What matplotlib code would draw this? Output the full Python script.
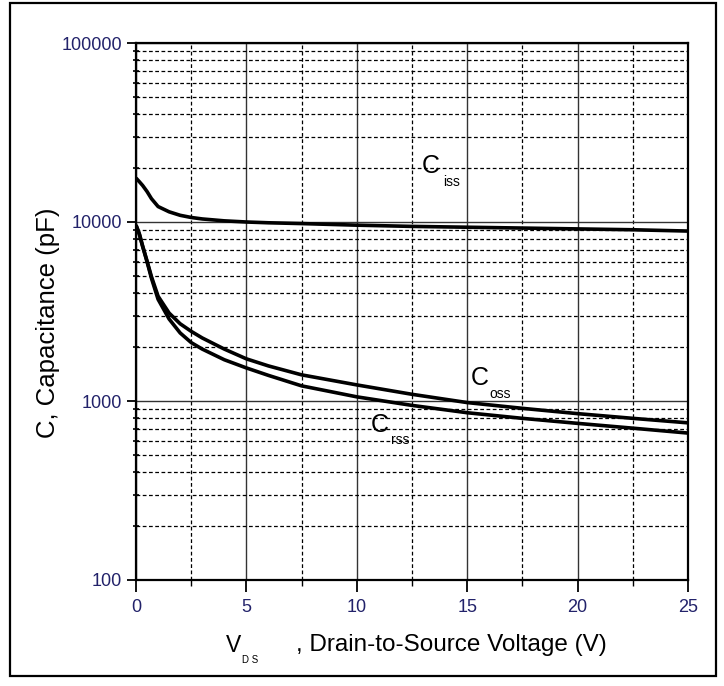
import matplotlib
matplotlib.use("Agg")
import matplotlib.pyplot as plt
from matplotlib.patches import Rectangle
from matplotlib.ticker import FixedLocator, NullFormatter

plt.rcParams["font.family"] = ["Liberation Sans", "DejaVu Sans"]

# drain-to-source voltage (V)
vds = [0, 0.15, 0.3, 0.5, 0.7, 1.0, 1.5, 2.0, 2.5, 3, 4, 5, 6, 7.5,
       10, 12.5, 15, 17.5, 20, 22.5, 25]
# capacitances (pF)
ciss = [17600, 16800, 16000, 14800, 13500, 12200, 11400, 10900, 10600, 10400,
        10150, 10000, 9900, 9800, 9600, 9450, 9350, 9250, 9150, 9050, 8900]
coss = [9600, 8600, 7350, 6050, 4950, 3850, 3100, 2700, 2450, 2250,
        1950, 1720, 1570, 1400, 1230, 1090, 980, 910, 850, 800, 755]
crss = [9600, 8550, 7300, 6000, 4850, 3700, 2870, 2400, 2120, 1950,
        1700, 1530, 1390, 1215, 1055, 945, 860, 800, 750, 705, 662]

x_ticks = [0, 5, 10, 15, 20, 25]
x_minor = [2.5, 7.5, 12.5, 17.5, 22.5]
y_ticks = [100, 1000, 10000, 100000]

W, H = 724, 686
fig = plt.figure(figsize=(W / 100, H / 100), dpi=100)
fig.patches.append(Rectangle((10 / W, 1 - 676 / H), 706 / W, 673 / H,
                             transform=fig.transFigure, fill=False,
                             edgecolor="black", linewidth=1.6))

ax = fig.add_axes([136 / W, 1 - 580 / H, 552 / W, 537 / H])
ax.set_yscale("log")
ax.set_xlim(0, 25)
ax.set_ylim(100, 100000)

tick_color = "#22226a"
ax.xaxis.set_major_locator(FixedLocator(x_ticks))
ax.xaxis.set_minor_locator(FixedLocator(x_minor))
ax.set_xticklabels([str(t) for t in x_ticks])
ax.yaxis.set_major_locator(FixedLocator(y_ticks))
ax.set_yticklabels([str(t) for t in y_ticks])
ax.yaxis.set_minor_locator(FixedLocator(
    [m * d for d in (100, 1000, 10000) for m in range(2, 10)]))
ax.yaxis.set_minor_formatter(NullFormatter())

ax.tick_params(axis="y", which="major", direction="out", length=6.5,
               width=1.3, labelsize=13, labelcolor=tick_color, pad=3.5)
ax.tick_params(axis="x", which="major", direction="out", length=8.5,
               width=1.3, labelsize=13, labelcolor=tick_color, pad=5)
ax.tick_params(axis="y", which="minor", direction="inout", length=5, width=1.2)
ax.tick_params(axis="x", which="minor", direction="out", length=4.5, width=1.0)

ax.grid(True, which="major", color="#333333", linewidth=1.0, linestyle="-")
ax.grid(True, which="minor", color="black", linewidth=0.9,
        linestyle=(0, (3, 2)))
ax.set_axisbelow(True)
for sp in ax.spines.values():
    sp.set_linewidth(1.6)

for series in (ciss, coss, crss):
    ax.plot(vds, series, color="black", linewidth=2.6, solid_capstyle="butt")

# curve labels (C with small subscript)
ax.text(13.35, 20500, "C", fontsize=18, ha="center", va="center")
ax.text(14.3, 16700, "iss", fontsize=10, ha="center", va="center")
ax.text(15.55, 1345, "C", fontsize=18, ha="center", va="center")
ax.text(16.5, 1095, "oss", fontsize=10, ha="center", va="center")
ax.text(11.05, 735, "C", fontsize=18, ha="center", va="center")
ax.text(11.95, 605, "rss", fontsize=10, ha="center", va="center")

fig.text(48 / W, 1 - 323 / H, "C, Capacitance (pF)", rotation=90,
         fontsize=18.5, ha="center", va="center")
fig.text(226 / W, 1 - 645 / H, "V", fontsize=16.5, ha="left", va="center")
fig.text(242 / W, 1 - 660 / H, "D S", fontsize=7, ha="left", va="center")
fig.text(296 / W, 1 - 645 / H, ", Drain-to-Source Voltage (V)", fontsize=17.5,
         ha="left", va="center")

fig.savefig("out.png", dpi=100)
